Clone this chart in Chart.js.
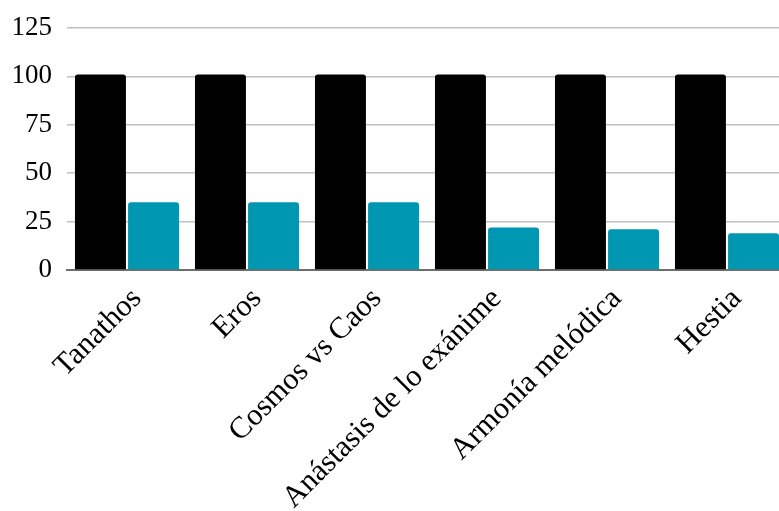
<!DOCTYPE html>
<html>
<head>
<meta charset="utf-8">
<script src="https://cdn.jsdelivr.net/npm/chart.js@4"></script>
<style>
    html, body { margin: 0; padding: 0; background: #fff; overflow: hidden; }
    #wrap { position: relative; width: 794px; height: 511px; }
</style>
</head>
<body>
<div id="wrap"><canvas id="barChart"></canvas></div>
<script>
// Chart data
const categories = ['Tanathos', 'Eros', 'Cosmos vs Caos', 'Anástasis de lo exánime', 'Armonía melódica', 'Hestia'];
const seriesA = [101, 101, 101, 101, 101, 101];
const seriesB = [35, 35, 35, 22, 21, 19];
const yTicks = [0, 25, 50, 75, 100, 125];

const serif = 'Liberation Serif, Times New Roman, serif';

function initBarChart() {
    const ctx = document.getElementById('barChart');
    if (!ctx) return;

    new Chart(ctx, {
        type: 'bar',
        data: {
            labels: categories,
            datasets: [
                {
                    label: 'Serie 1',
                    data: seriesA,
                    backgroundColor: '#000000',
                    borderRadius: 3,
                    categoryPercentage: 0.885,
                    barPercentage: 0.96
                },
                {
                    label: 'Serie 2',
                    data: seriesB,
                    backgroundColor: '#0097b2',
                    borderRadius: 3,
                    categoryPercentage: 0.885,
                    barPercentage: 0.96
                }
            ]
        },
        options: {
            responsive: true,
            maintainAspectRatio: false,
            animation: false,
            layout: { padding: { top: 28, right: 7, left: 0, bottom: 0 } },
            plugins: {
                legend: { display: false },
                tooltip: { enabled: false }
            },
            scales: {
                x: {
                    grid: { display: false },
                    border: { display: true, color: '#6e6e6e', width: 2 },
                    ticks: {
                        color: '#000',
                        font: { family: serif, size: 30.5 },
                        maxRotation: 45,
                        minRotation: 45,
                        padding: 3,
                        labelOffset: 10,
                        autoSkip: false
                    },
                    afterFit(scale) {
                        scale.height = 241;
                        scale.paddingLeft = 0;
                        scale.paddingRight = 0;
                    }
                },
                y: {
                    min: 0,
                    max: 125,
                    afterBuildTicks(scale) {
                        scale.ticks = yTicks.map(v => ({ value: v }));
                    },
                    grid: {
                        color: '#bfbfbf',
                        lineWidth: 1.5,
                        drawTicks: false
                    },
                    border: { display: false },
                    ticks: {
                        color: '#000',
                        font: { family: serif, size: 27 },
                        padding: 15
                    },
                    afterFit(scale) {
                        scale.width = 67;
                        scale.paddingTop = 0;
                        scale.paddingBottom = 0;
                    }
                }
            }
        }
    });
}

initBarChart();
</script>
</body>
</html>
